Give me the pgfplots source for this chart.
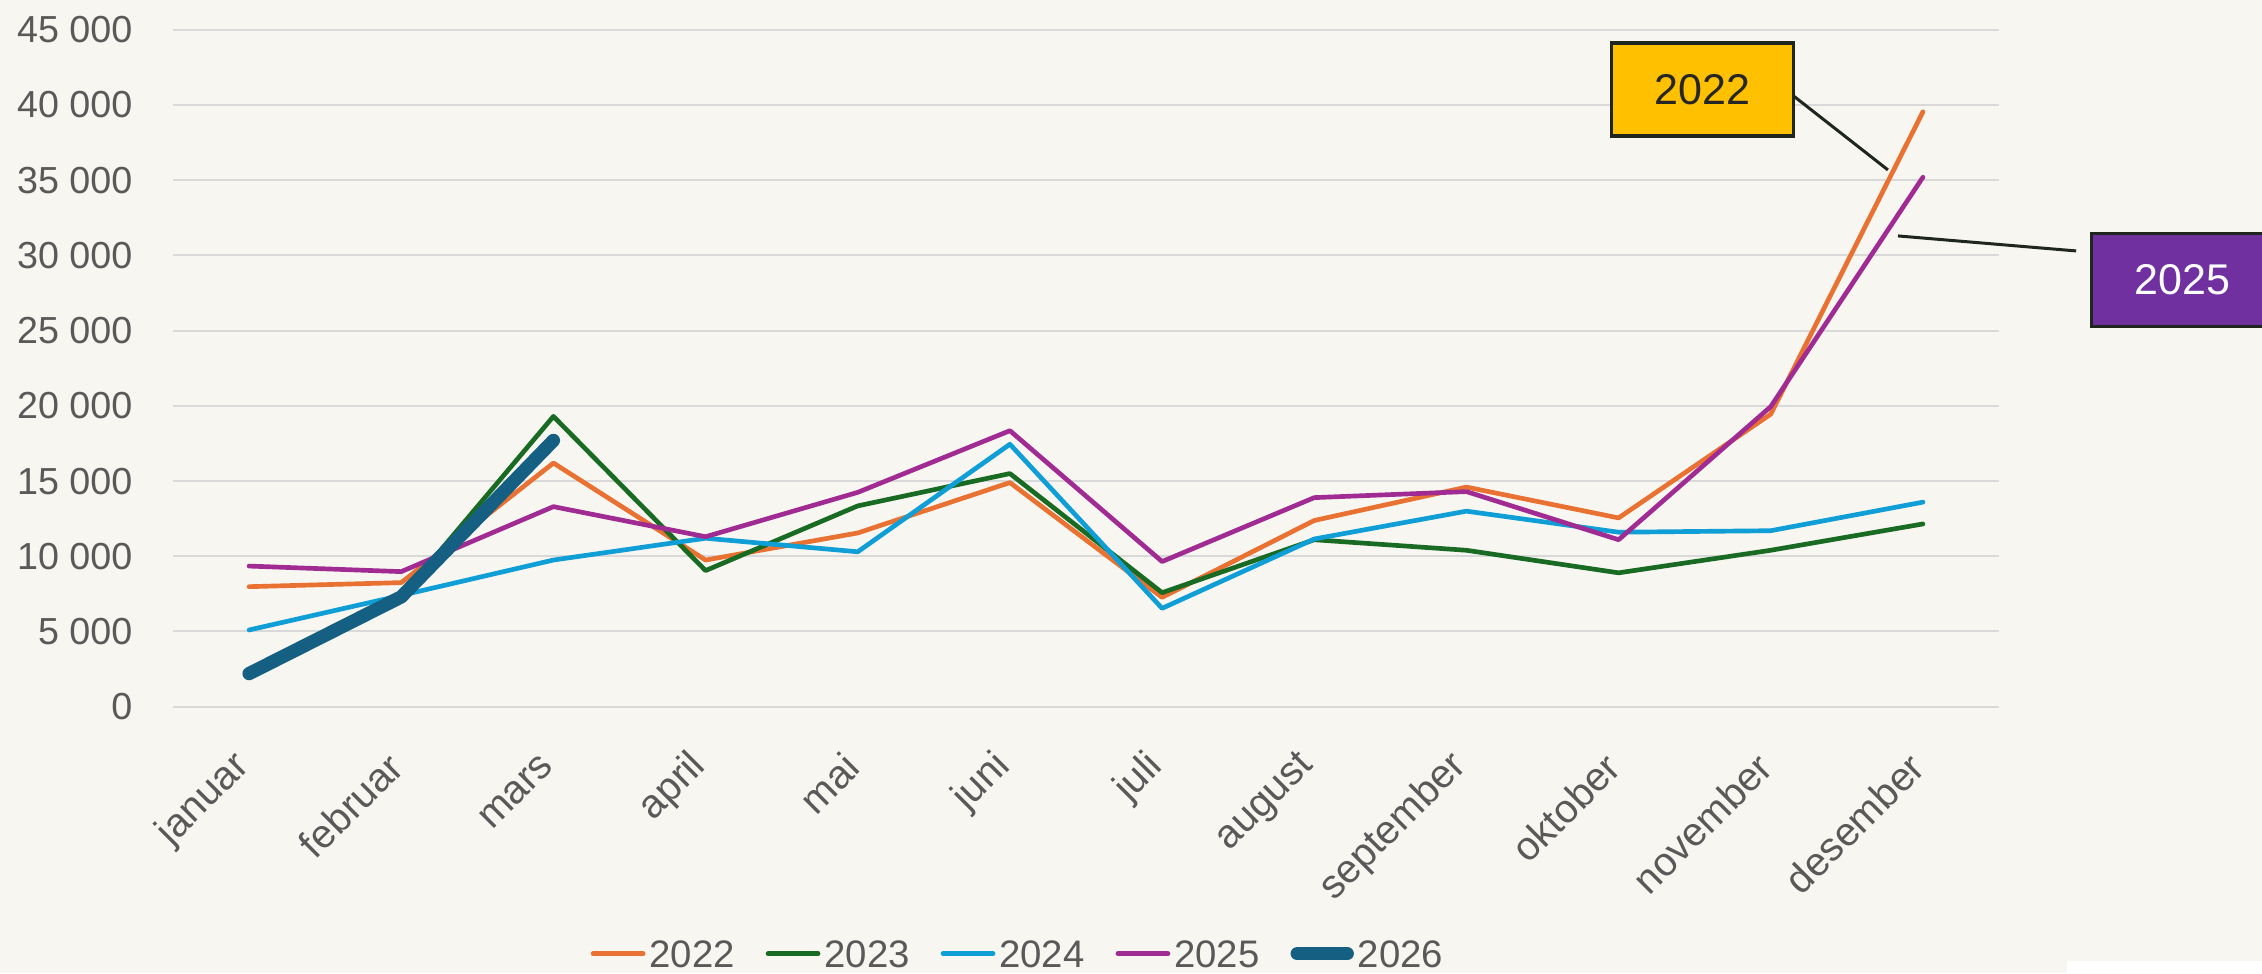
\documentclass[border=0pt]{standalone}
\usepackage{fontspec}
\setmainfont{Liberation Sans}
\usepackage{pgfplots}
\pgfplotsset{compat=1.18}
\definecolor{bg}{HTML}{F7F6F0}
\definecolor{gridc}{HTML}{D9D9D9}
\definecolor{txt}{HTML}{595959}
\definecolor{c22}{HTML}{E97132}
\definecolor{c23}{HTML}{196B24}
\definecolor{c24}{HTML}{0F9ED5}
\definecolor{c25}{HTML}{A02B93}
\definecolor{c26}{HTML}{156082}
\definecolor{gold}{HTML}{FFC000}
\definecolor{purp}{HTML}{7030A0}
\definecolor{edge}{HTML}{1F261F}
\begin{document}
\fontsize{11.1}{13}\selectfont
\begin{tikzpicture}
\path[use as bounding box, fill=bg] (-51.9pt,-79.89pt) rectangle (626.7pt,212.01pt);
\begin{axis}[
  at={(0,0)}, anchor=south west,
  scale only axis, width=547.8pt, height=203.07pt,
  xmin=-0.5, xmax=11.5, ymin=0, ymax=45000,
  axis line style={draw=none},
  major tick length=0pt,
  scaled y ticks=false,
  xtick={0,...,11},
  xticklabels={januar,februar,mars,april,mai,juni,juli,august,september,oktober,november,desember},
  ytick={0,5000,10000,15000,20000,25000,30000,35000,40000,45000},
  yticklabels={0,5 000,10 000,15 000,20 000,25 000,30 000,35 000,40 000,45 000},
  ymajorgrids, grid style={line width=0.6pt, color=gridc},
  tick label style={color=txt},
  xticklabel style={font=\fontsize{12}{14}\selectfont, xshift=-1.6pt, yshift=-16pt, rotate=45, anchor=east, inner sep=0pt},
  yticklabel style={font=\fontsize{11.3}{13}\selectfont, anchor=east, inner sep=0pt, xshift=-12pt},
  clip=false,
  legend columns=5,
  legend style={at={(axis description cs:0.4622,-0.3698)}, anchor=center, draw=none, fill=none,
    font=\fontsize{11.5}{13}\selectfont, text=txt, inner sep=0pt,
    nodes={inner sep=0pt},
    /tikz/every odd column/.append style={column sep=1.2pt},
    /tikz/every even column/.append style={column sep=9.3pt}},
  legend cell align=left,
  legend image code/.code={\draw[#1, line cap=round] (0pt,1pt) -- (15pt,1pt);},
  every axis plot/.append style={line join=round, line cap=round},
]
\addplot[c22, line width=1.4pt] coordinates {(0,7980) (1,8250) (2,16200) (3,9750) (4,11550) (5,14900) (6,7270) (7,12380) (8,14600) (9,12550) (10,19450) (11,39550)};
\addlegendentry{2022}
\addplot[c23, line width=1.4pt] coordinates {(0,2250) (1,7300) (2,19300) (3,9050) (4,13350) (5,15500) (6,7580) (7,11100) (8,10400) (9,8900) (10,10400) (11,12150)};
\addlegendentry{2023}
\addplot[c24, line width=1.4pt] coordinates {(0,5100) (1,7400) (2,9750) (3,11200) (4,10300) (5,17450) (6,6540) (7,11150) (8,13000) (9,11600) (10,11700) (11,13600)};
\addlegendentry{2024}
\addplot[c25, line width=1.4pt] coordinates {(0,9350) (1,8980) (2,13300) (3,11300) (4,14250) (5,18350) (6,9650) (7,13900) (8,14300) (9,11100) (10,19950) (11,35200)};
\addlegendentry{2025}
\addplot[c26, line width=4pt] coordinates {(0,2200) (1,7300) (2,17700)};
\addlegendentry{2026}
\draw[edge, line width=0.9pt] (axis cs:10.125,40797) -- (axis cs:10.770,35685);
\draw[edge, line width=0.9pt] (axis cs:10.836,31297) -- (axis cs:12.007,30299);
\node[fill=gold, draw=edge, line width=1pt, minimum width=54.6pt, minimum height=27.9pt, inner sep=0pt, text=black!85, font=\fontsize{12.9}{15}\selectfont] at (axis cs:9.553,41037) {2022};
\node[fill=purp, draw=edge, line width=1pt, minimum width=54.6pt, minimum height=27.9pt, inner sep=0pt, text=white, font=\fontsize{12.9}{15}\selectfont] at (axis cs:12.704,28371) {2025};
\end{axis}
\fill[white] (568.2pt,-79.89pt) rectangle (626.7pt,-76.29pt);
\end{tikzpicture}
\end{document}
